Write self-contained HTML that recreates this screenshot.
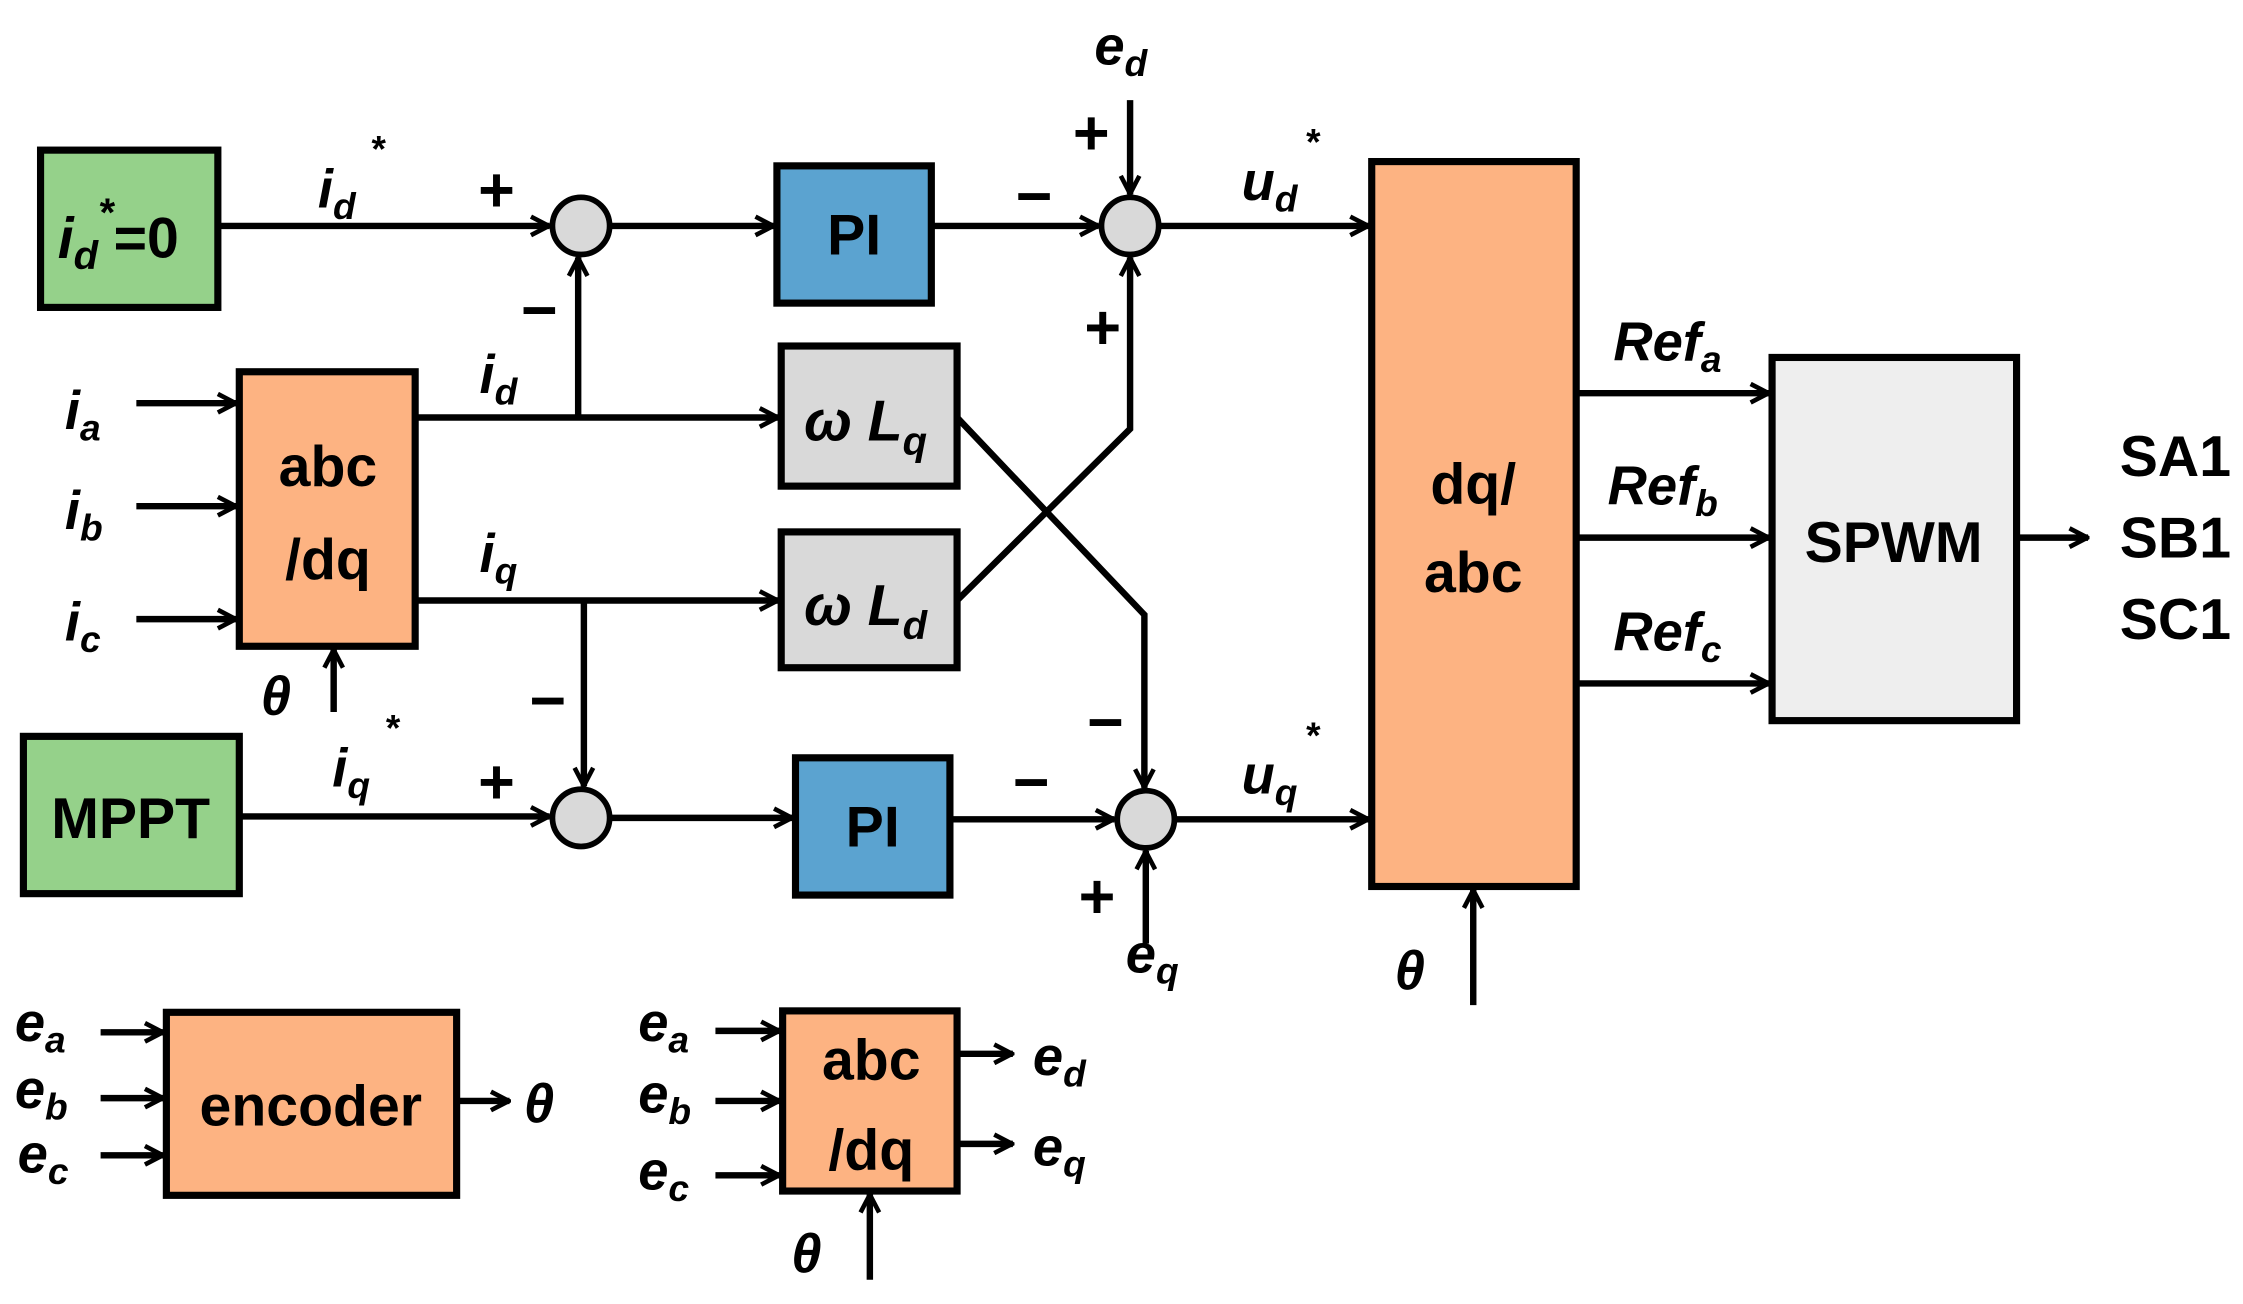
<!DOCTYPE html>
<html><head><meta charset="utf-8"><style>
html,body{margin:0;padding:0;background:#fff}
svg{display:block}
text{font-family:"Liberation Sans",sans-serif;font-weight:bold;fill:#000}
.v{font-style:italic}
</style></head><body>
<svg width="2243" height="1304" viewBox="0 0 1568 912" xmlns="http://www.w3.org/2000/svg">
<defs>
<marker id="a" viewBox="0 0 16 16" refX="15" refY="8" markerWidth="16" markerHeight="16" markerUnits="userSpaceOnUse" orient="auto">
<path d="M2,1.5 L14.5,8 L2,14.5" fill="none" stroke="#000" stroke-width="3.2"/>
</marker>
</defs>
<g stroke="#000" stroke-width="5">
<rect x="28" y="105" width="124" height="110" fill="#95d18a"/>
<rect x="16" y="515" width="151" height="110" fill="#95d18a"/>
<rect x="167" y="260" width="123" height="192" fill="#fdb382"/>
<rect x="543" y="116" width="108" height="96" fill="#5ba3d0"/>
<rect x="556" y="530" width="108" height="96" fill="#5ba3d0"/>
<rect x="546" y="242" width="123" height="98" fill="#d9d9d9"/>
<rect x="546" y="372" width="123" height="95" fill="#d9d9d9"/>
<rect x="959" y="113" width="143" height="507" fill="#fdb382"/>
<rect x="1239" y="250" width="171" height="254" fill="#eeeeee"/>
<rect x="116" y="708" width="203" height="128" fill="#fdb382"/>
<rect x="547" y="707" width="122" height="126" fill="#fdb382"/>
<circle cx="406" cy="158" r="20" fill="#d9d9d9" stroke-width="4"/>
<circle cx="406" cy="572" r="20" fill="#d9d9d9" stroke-width="4"/>
<circle cx="790" cy="158" r="20" fill="#d9d9d9" stroke-width="4"/>
<circle cx="801" cy="573" r="20" fill="#d9d9d9" stroke-width="4"/>
</g>
<g stroke="#000" stroke-width="4.5" fill="none" marker-end="url(#a)">
<path d="M152,158 H384"/>
<path d="M426,158 H541"/>
<path d="M651,158 H768"/>
<path d="M810,158 H957"/>
<path d="M290,292 H544"/>
<path d="M404,292 V180"/>
<path d="M290,420 H544"/>
<path d="M408,420 V550"/>
<path d="M167,571 H384"/>
<path d="M426,572 H554"/>
<path d="M664,573 H779"/>
<path d="M821,573 H957"/>
<path d="M669,292 L800,430 V551"/>
<path d="M669,420 L790,300 V180"/>
<path d="M790,70 V136"/>
<path d="M801,660 V595"/>
<path d="M95,282 H165"/>
<path d="M95,354 H165"/>
<path d="M95,433 H165"/>
<path d="M233,498 V454"/>
<path d="M1030,703 V622"/>
<path d="M1102,275 H1237"/>
<path d="M1102,376 H1237"/>
<path d="M1102,478 H1237"/>
<path d="M1410,376 H1460"/>
<path d="M70,722 H114"/>
<path d="M70,768 H114"/>
<path d="M70,808 H114"/>
<path d="M319,770 H356"/>
<path d="M500,721 H545"/>
<path d="M500,770 H545"/>
<path d="M500,822 H545"/>
<path d="M669,737 H708"/>
<path d="M669,800 H708"/>
<path d="M608,895 V835"/>
</g>
<g font-size="40">
<text x="40" y="180" class="v">i<tspan font-size="28" dy="8">d</tspan><tspan font-size="28" dy="-30">*</tspan><tspan dy="22" font-style="normal">=0</tspan></text>
<text x="91" y="586" text-anchor="middle">MPPT</text>
<text x="229" y="340" text-anchor="middle">abc</text>
<text x="229" y="405" text-anchor="middle">/dq</text>
<text x="597" y="178" text-anchor="middle">PI</text>
<text x="610" y="592" text-anchor="middle">PI</text>
<text x="562" y="308" class="v">ω L<tspan font-size="28" dy="10">q</tspan></text>
<text x="562" y="437" class="v">ω L<tspan font-size="28" dy="10">d</tspan></text>
<text x="1030" y="352" text-anchor="middle">dq/</text>
<text x="1030" y="414" text-anchor="middle">abc</text>
<text x="1324" y="393" text-anchor="middle">SPWM</text>
<text x="217" y="787" text-anchor="middle">encoder</text>
<text x="609" y="755" text-anchor="middle">abc</text>
<text x="609" y="818" text-anchor="middle">/dq</text>
<text x="1560" y="333" text-anchor="end">SA1</text>
<text x="1560" y="390" text-anchor="end">SB1</text>
<text x="1560" y="447" text-anchor="end">SC1</text>
</g>
<g font-size="38" class="v">
<text x="222" y="145" class="v">i<tspan font-size="26" dy="8">d</tspan><tspan font-size="26" dy="-40" dx="10">*</tspan></text>
<text x="335" y="275" class="v">i<tspan font-size="26" dy="8">d</tspan></text>
<text x="335" y="400" class="v">i<tspan font-size="26" dy="8">q</tspan></text>
<text x="232" y="550" class="v">i<tspan font-size="26" dy="8">q</tspan><tspan font-size="26" dy="-40" dx="10">*</tspan></text>
<text x="868" y="140" class="v">u<tspan font-size="26" dy="8">d</tspan><tspan font-size="26" dy="-40" dx="5">*</tspan></text>
<text x="868" y="555" class="v">u<tspan font-size="26" dy="8">q</tspan><tspan font-size="26" dy="-40" dx="5">*</tspan></text>
<text x="765" y="45" class="v">e<tspan font-size="26" dy="8">d</tspan></text>
<text x="787" y="680" class="v">e<tspan font-size="26" dy="8">q</tspan></text>
<text x="45" y="300" class="v">i<tspan font-size="26" dy="8">a</tspan></text>
<text x="45" y="370" class="v">i<tspan font-size="26" dy="8">b</tspan></text>
<text x="45" y="448" class="v">i<tspan font-size="26" dy="8">c</tspan></text>
<text x="182" y="500" class="v">θ</text>
<text x="975" y="692" class="v">θ</text>
<text x="1128" y="252" class="v">Ref<tspan font-size="26" dy="8">a</tspan></text>
<text x="1124" y="353" class="v">Ref<tspan font-size="26" dy="8">b</tspan></text>
<text x="1128" y="455" class="v">Ref<tspan font-size="26" dy="8">c</tspan></text>
<text x="10" y="728" class="v">e<tspan font-size="26" dy="8">a</tspan></text>
<text x="10" y="775" class="v">e<tspan font-size="26" dy="8">b</tspan></text>
<text x="12" y="820" class="v">e<tspan font-size="26" dy="8">c</tspan></text>
<text x="366" y="785" class="v">θ</text>
<text x="446" y="728" class="v">e<tspan font-size="26" dy="8">a</tspan></text>
<text x="446" y="778" class="v">e<tspan font-size="26" dy="8">b</tspan></text>
<text x="446" y="832" class="v">e<tspan font-size="26" dy="8">c</tspan></text>
<text x="722" y="752" class="v">e<tspan font-size="26" dy="8">d</tspan></text>
<text x="722" y="815" class="v">e<tspan font-size="26" dy="8">q</tspan></text>
<text x="553" y="890" class="v">θ</text>
</g>
<g font-size="44">
<text x="334" y="148">+</text>
<text x="364" y="232">−</text>
<text x="710" y="152">−</text>
<text x="750" y="108">+</text>
<text x="758" y="244">+</text>
<text x="370" y="505">−</text>
<text x="334" y="562">+</text>
<text x="760" y="520">−</text>
<text x="708" y="562">−</text>
<text x="754" y="642">+</text>
</g>
</svg>
</body></html>
